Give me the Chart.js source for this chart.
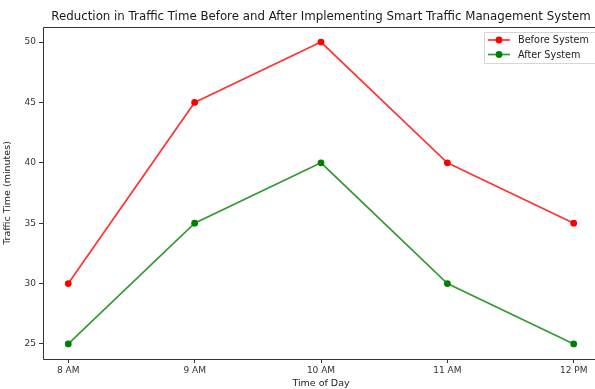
<!DOCTYPE html>
<html>
<head>
<meta charset="utf-8">
<script src="https://cdn.jsdelivr.net/npm/chart.js@4.4.1/dist/chart.umd.min.js"></script>
<style>
  html, body { margin: 0; padding: 0; background: #fff; overflow: hidden; }
  #wrap { width: 595px; height: 389px; overflow: hidden; }
  canvas { display: block; }
</style>
</head>
<body>
<div id="wrap"><canvas id="mycanvas" width="605" height="389"></canvas></div>
<script>
var times = ["8 AM", "9 AM", "10 AM", "11 AM", "12 PM"];
var beforeSystem = [30, 45, 50, 40, 35];
var afterSystem = [25, 35, 40, 30, 25];
var yTicks = [25, 30, 35, 40, 45, 50];
var chartTitle = "Reduction in Traffic Time Before and After Implementing Smart Traffic Management System";

var FONT = "'DejaVu Sans', sans-serif";
var AXIS_COL = "#333333";

function toPoints(arr) {
	var pts = [];
	for (var i in arr) {
		pts.push({x: Number(i), y: arr[i]});
	}
	return pts;
}

// spines (left, top, bottom), title and legend drawn by hand, matplotlib style
var extras = {
	id: "extras",
	afterDraw: function(chart) {
		var ctx = chart.ctx;
		var a = chart.chartArea;
		ctx.save();
		ctx.strokeStyle = AXIS_COL;
		ctx.lineWidth = 1;
		ctx.beginPath();
		ctx.moveTo(a.right, a.top + 0.5);
		ctx.lineTo(a.left + 0.5, a.top + 0.5);
		ctx.lineTo(a.left + 0.5, a.bottom + 0.5);
		ctx.lineTo(a.right, a.bottom + 0.5);
		ctx.stroke();

		ctx.fillStyle = "#1a1a1a";
		ctx.font = "11.8px " + FONT;
		ctx.textAlign = "center";
		ctx.textBaseline = "alphabetic";
		ctx.fillText(chartTitle, (a.left + a.right) / 2, 20);

		// legend
		var lx = 484, ly = 32, lw = 115, lh = 31;
		ctx.fillStyle = "rgba(255,255,255,0.85)";
		ctx.strokeStyle = "#d6d6d6";
		ctx.lineWidth = 1;
		ctx.beginPath();
		ctx.rect(lx + 0.5, ly + 0.5, lw, lh);
		ctx.fill();
		ctx.stroke();
		var ds = chart.data.datasets;
		for (var i = 0; i < ds.length; i++) {
			var yy = ly + 8 + i * 14.5;
			ctx.strokeStyle = ds[i].borderColor;
			ctx.lineWidth = 1.7;
			ctx.beginPath();
			ctx.moveTo(488, yy);
			ctx.lineTo(510, yy);
			ctx.stroke();
			ctx.fillStyle = ds[i].backgroundColor;
			ctx.beginPath();
			ctx.arc(499, yy, 3.4, 0, Math.PI * 2);
			ctx.fill();
			ctx.fillStyle = "#222";
			ctx.font = "9.7px " + FONT;
			ctx.textAlign = "left";
			ctx.textBaseline = "middle";
			ctx.fillText(ds[i].label, 518, yy + 0.5);
		}
		ctx.restore();
	}
};

var chartdata = {
	datasets: [
		{
			label: "Before System",
			data: toPoints(beforeSystem),
			borderColor: "rgba(255, 0, 0, 0.8)",
			backgroundColor: "rgb(255, 0, 0)",
			pointBackgroundColor: "rgb(255, 0, 0)",
			pointBorderWidth: 0,
			pointRadius: 3.4,
			borderWidth: 1.7,
			tension: 0
		},
		{
			label: "After System",
			data: toPoints(afterSystem),
			borderColor: "rgba(0, 128, 0, 0.8)",
			backgroundColor: "rgb(0, 128, 0)",
			pointBackgroundColor: "rgb(0, 128, 0)",
			pointBorderWidth: 0,
			pointRadius: 3.4,
			borderWidth: 1.7,
			tension: 0
		}
	]
};

var ctx = document.getElementById("mycanvas");

var LineGraph = new Chart(ctx, {
	type: "line",
	data: chartdata,
	plugins: [extras],
	options: {
		responsive: false,
		animation: false,
		devicePixelRatio: 1,
		layout: { padding: { top: 27, right: 6, left: 0, bottom: 0 } },
		plugins: {
			legend: { display: false },
			title: { display: false },
			tooltip: { enabled: false }
		},
		scales: {
			x: {
				type: "linear",
				min: -0.2,
				max: 4.2,
				afterBuildTicks: function(scale) {
					scale.ticks = times.map(function(t, i) { return {value: i}; });
				},
				afterFit: function(scale) { scale.height = 30; },
				ticks: {
					autoSkip: false,
					maxRotation: 0,
					padding: 2,
					color: "#333",
					font: { family: FONT, size: 9 },
					callback: function(v) { return times[v]; }
				},
				grid: { display: true, drawOnChartArea: false, drawTicks: true, tickLength: 4, color: AXIS_COL },
				border: { display: false },
				title: {
					display: true,
					text: "Time of Day",
					color: "#222",
					font: { family: FONT, size: 9.5 },
					padding: { top: 0, bottom: 0 }
				}
			},
			y: {
				min: 23.75,
				max: 51.25,
				afterBuildTicks: function(scale) {
					scale.ticks = yTicks.map(function(v) { return {value: v}; });
				},
				afterFit: function(scale) { scale.width = 43; },
				ticks: {
					padding: 3,
					color: "#333",
					font: { family: FONT, size: 9 }
				},
				grid: { display: true, drawOnChartArea: false, drawTicks: true, tickLength: 4, color: AXIS_COL },
				border: { display: false },
				title: {
					display: true,
					text: "Traffic Time (minutes)",
					color: "#222",
					font: { family: FONT, size: 9.5 },
					padding: { top: 2, bottom: 0 }
				}
			}
		}
	}
});
</script>
</body>
</html>
